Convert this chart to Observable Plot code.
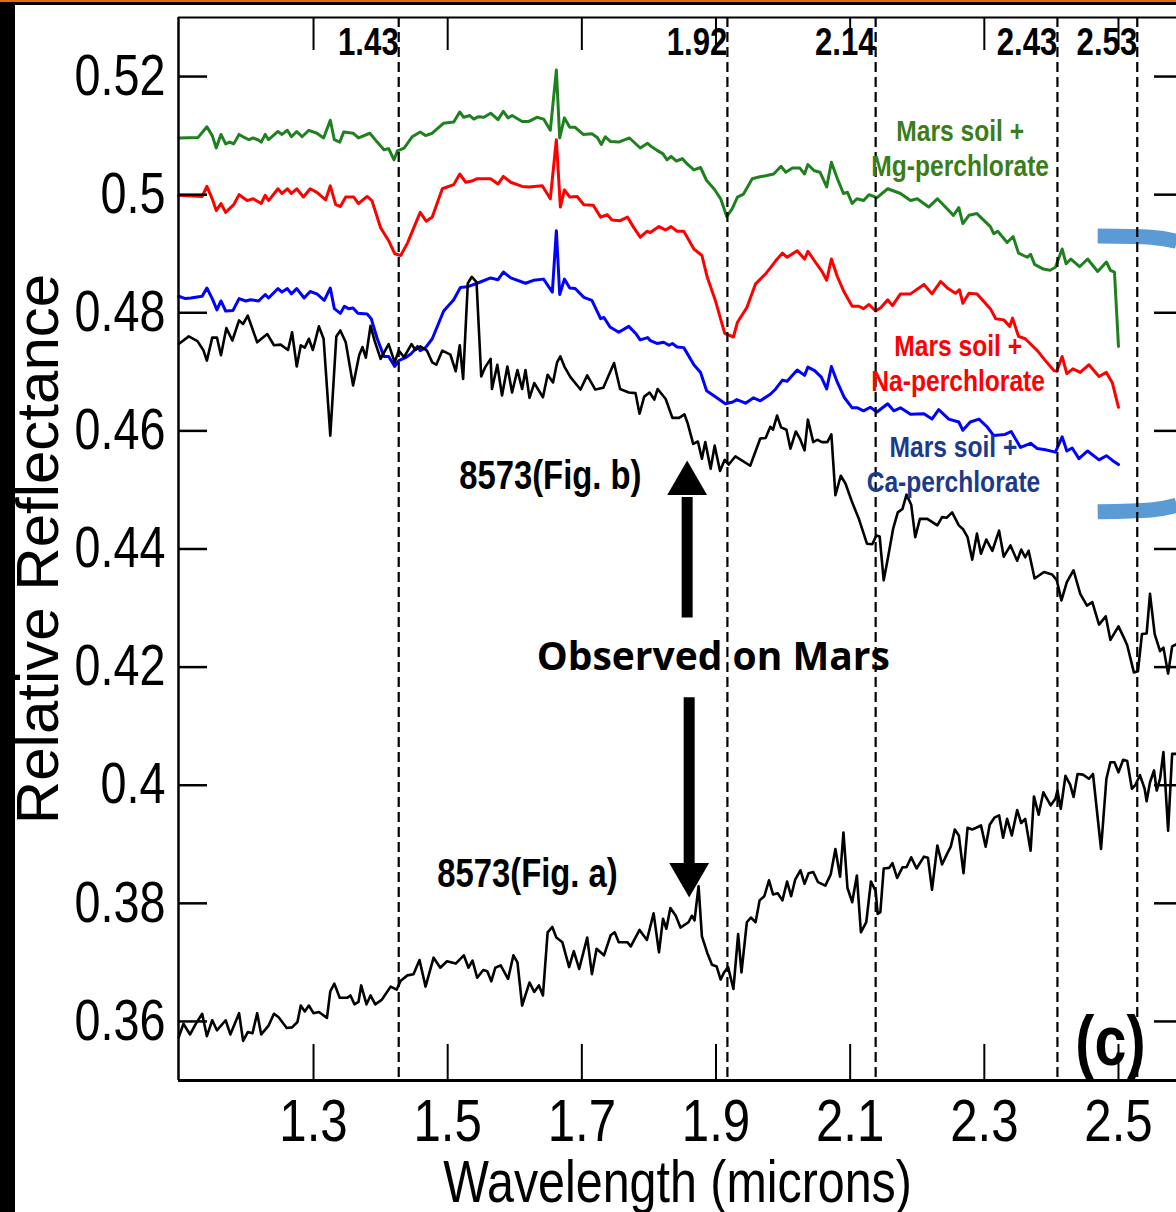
<!DOCTYPE html>
<html><head><meta charset="utf-8">
<script src="https://cdn.jsdelivr.net/npm/d3@7"></script>
<script src="https://cdn.jsdelivr.net/npm/@observablehq/plot@0.6"></script>
<style>
html,body{margin:0;padding:0;background:#fff;overflow:hidden;}
#outer{width:1176px;height:1212px;box-sizing:border-box;border-top:2px solid #e46c0a;}
#inner{height:1210px;box-sizing:border-box;border-top:3px solid #000;border-left:15px solid #000;}
svg{display:block;}
</style></head><body><div id="outer"><div id="inner"><div id="chart"></div></div></div>
<script>
// ---------- data (wavelength in microns, relative reflectance) ----------
const mgPerchlorate = [[1.099,.5096],[1.128,.5097],[1.141,.5115],[1.149,.5100],[1.155,.5079],[1.162,.5102],[1.169,.5086],[1.175,.5089],[1.181,.5086],[1.189,.5102],[1.195,.5098],[1.204,.5093],[1.210,.5096],[1.217,.5093],[1.222,.5089],[1.228,.5102],[1.233,.5093],[1.247,.5107],[1.253,.5102],[1.261,.5109],[1.267,.5098],[1.275,.5107],[1.283,.5098],[1.293,.5109],[1.305,.5104],[1.315,.5096],[1.325,.5126],[1.331,.5093],[1.339,.5089],[1.345,.5106],[1.359,.5104],[1.367,.5096],[1.384,.5104],[1.395,.5089],[1.405,.5076],[1.412,.5078],[1.420,.5059],[1.425,.5074],[1.435,.5079],[1.447,.5098],[1.459,.5106],[1.467,.5100],[1.477,.5104],[1.494,.5121],[1.509,.5123],[1.518,.5140],[1.524,.5131],[1.533,.5134],[1.539,.5128],[1.546,.5132],[1.554,.5131],[1.564,.5138],[1.575,.5127],[1.583,.5141],[1.590,.5130],[1.596,.5134],[1.611,.5124],[1.621,.5124],[1.633,.5131],[1.643,.5128],[1.653,.5109],[1.662,.5211],[1.667,.5096],[1.674,.5130],[1.682,.5114],[1.690,.5114],[1.702,.5102],[1.715,.5103],[1.723,.5097],[1.729,.5085],[1.735,.5098],[1.743,.5090],[1.755,.5089],[1.771,.5096],[1.787,.5079],[1.798,.5087],[1.802,.5083],[1.812,.5075],[1.821,.5069],[1.827,.5059],[1.833,.5065],[1.841,.5057],[1.850,.5061],[1.857,.5052],[1.867,.5042],[1.877,.5046],[1.886,.5024],[1.897,.5010],[1.907,.4993],[1.916,.4963],[1.924,.4976],[1.932,.4996],[1.941,.5001],[1.954,.5027],[1.964,.5030],[1.974,.5032],[1.986,.5035],[1.997,.5048],[2.004,.5038],[2.014,.5045],[2.025,.5045],[2.032,.5035],[2.037,.5051],[2.046,.5041],[2.055,.5038],[2.065,.5013],[2.072,.5055],[2.081,.5027],[2.090,.5002],[2.096,.5004],[2.103,.4985],[2.110,.4993],[2.120,.4990],[2.128,.5000],[2.140,.4995],[2.156,.5010],[2.175,.5002],[2.190,.4990],[2.200,.4993],[2.217,.4979],[2.230,.4993],[2.242,.4979],[2.254,.4965],[2.262,.4978],[2.268,.4951],[2.277,.4965],[2.289,.4968],[2.299,.4957],[2.309,.4946],[2.314,.4934],[2.320,.4938],[2.334,.4919],[2.343,.4929],[2.351,.4901],[2.364,.4894],[2.369,.4899],[2.375,.4882],[2.388,.4874],[2.398,.4872],[2.406,.4877],[2.416,.4908],[2.422,.4883],[2.429,.4891],[2.442,.4878],[2.454,.4891],[2.469,.4870],[2.482,.4886],[2.488,.4872],[2.494,.4869],[2.500,.4743]];

const naPerchlorate = [[1.099,.4999],[1.134,.4997],[1.141,.5014],[1.149,.4993],[1.155,.4973],[1.162,.4985],[1.169,.4970],[1.181,.4983],[1.189,.5000],[1.201,.4990],[1.210,.4993],[1.222,.4985],[1.228,.4999],[1.233,.4990],[1.247,.5010],[1.253,.5002],[1.261,.5010],[1.267,.5002],[1.275,.5010],[1.285,.4996],[1.295,.5010],[1.305,.5004],[1.318,.4991],[1.325,.5015],[1.333,.4983],[1.340,.4980],[1.348,.4996],[1.360,.4996],[1.367,.4985],[1.380,.4997],[1.387,.4990],[1.400,.4944],[1.412,.4922],[1.421,.4900],[1.430,.4897],[1.440,.4918],[1.459,.4970],[1.468,.4955],[1.477,.4962],[1.492,.5010],[1.509,.5017],[1.518,.5035],[1.527,.5021],[1.536,.5023],[1.544,.5027],[1.564,.5027],[1.575,.5018],[1.583,.5031],[1.594,.5021],[1.611,.5014],[1.621,.5013],[1.641,.5015],[1.653,.4993],[1.662,.5093],[1.668,.4979],[1.674,.5008],[1.682,.4996],[1.693,.4997],[1.703,.4983],[1.717,.4982],[1.728,.4962],[1.738,.4966],[1.745,.4957],[1.757,.4956],[1.768,.4962],[1.777,.4945],[1.787,.4928],[1.797,.4938],[1.802,.4936],[1.815,.4946],[1.825,.4940],[1.833,.4946],[1.842,.4938],[1.852,.4938],[1.867,.4908],[1.879,.4897],[1.887,.4860],[1.899,.4821],[1.913,.4765],[1.926,.4759],[1.932,.4784],[1.946,.4809],[1.959,.4849],[1.974,.4866],[1.989,.4888],[1.999,.4901],[2.006,.4894],[2.021,.4905],[2.032,.4891],[2.037,.4904],[2.048,.4886],[2.058,.4870],[2.065,.4855],[2.072,.4891],[2.081,.4861],[2.091,.4835],[2.103,.4811],[2.113,.4811],[2.120,.4807],[2.128,.4814],[2.138,.4803],[2.146,.4809],[2.156,.4822],[2.163,.4812],[2.175,.4832],[2.190,.4832],[2.210,.4848],[2.222,.4832],[2.235,.4853],[2.246,.4841],[2.257,.4833],[2.263,.4839],[2.268,.4816],[2.277,.4833],[2.289,.4832],[2.309,.4807],[2.317,.4790],[2.329,.4788],[2.338,.4777],[2.342,.4791],[2.351,.4760],[2.361,.4756],[2.379,.4736],[2.391,.4719],[2.404,.4702],[2.408,.4701],[2.416,.4726],[2.423,.4697],[2.432,.4705],[2.443,.4699],[2.456,.4712],[2.471,.4692],[2.482,.4699],[2.491,.4681],[2.500,.4640]];

const caPerchlorate = [[1.099,.4828],[1.109,.4824],[1.117,.4825],[1.134,.4828],[1.141,.4842],[1.149,.4824],[1.156,.4805],[1.162,.4820],[1.169,.4803],[1.180,.4804],[1.189,.4824],[1.199,.4820],[1.206,.4822],[1.218,.4820],[1.228,.4831],[1.233,.4825],[1.247,.4841],[1.253,.4835],[1.261,.4841],[1.267,.4832],[1.275,.4841],[1.286,.4825],[1.295,.4836],[1.305,.4832],[1.316,.4821],[1.325,.4842],[1.331,.4807],[1.340,.4799],[1.346,.4811],[1.352,.4807],[1.359,.4808],[1.366,.4799],[1.380,.4798],[1.386,.4790],[1.395,.4756],[1.405,.4726],[1.412,.4726],[1.421,.4709],[1.427,.4719],[1.437,.4724],[1.445,.4730],[1.455,.4743],[1.459,.4736],[1.467,.4741],[1.477,.4756],[1.494,.4803],[1.509,.4822],[1.519,.4843],[1.529,.4844],[1.544,.4850],[1.564,.4859],[1.575,.4856],[1.583,.4869],[1.594,.4859],[1.616,.4850],[1.628,.4855],[1.643,.4857],[1.656,.4835],[1.662,.4939],[1.667,.4831],[1.674,.4857],[1.682,.4842],[1.690,.4841],[1.703,.4826],[1.715,.4821],[1.728,.4790],[1.733,.4792],[1.742,.4776],[1.755,.4767],[1.770,.4777],[1.781,.4764],[1.787,.4754],[1.798,.4758],[1.802,.4753],[1.812,.4748],[1.822,.4750],[1.830,.4745],[1.835,.4748],[1.842,.4742],[1.852,.4741],[1.867,.4712],[1.877,.4699],[1.886,.4668],[1.899,.4658],[1.914,.4646],[1.925,.4649],[1.931,.4653],[1.944,.4647],[1.956,.4656],[1.966,.4651],[1.981,.4662],[1.989,.4671],[1.999,.4686],[2.006,.4684],[2.021,.4703],[2.032,.4694],[2.037,.4708],[2.047,.4702],[2.057,.4691],[2.065,.4671],[2.072,.4709],[2.081,.4682],[2.091,.4657],[2.103,.4639],[2.111,.4639],[2.120,.4634],[2.130,.4640],[2.140,.4632],[2.156,.4646],[2.165,.4634],[2.175,.4639],[2.190,.4628],[2.210,.4629],[2.222,.4620],[2.232,.4636],[2.247,.4620],[2.262,.4615],[2.268,.4601],[2.279,.4615],[2.292,.4620],[2.304,.4607],[2.314,.4592],[2.331,.4594],[2.340,.4599],[2.354,.4572],[2.369,.4579],[2.379,.4570],[2.391,.4568],[2.406,.4564],[2.416,.4590],[2.423,.4566],[2.431,.4571],[2.441,.4553],[2.454,.4566],[2.471,.4551],[2.482,.4558],[2.491,.4550],[2.500,.4543]];

const obs8573b = [[1.099,.4747],[1.114,.4760],[1.127,.4752],[1.136,.4736],[1.141,.4719],[1.149,.4758],[1.156,.4758],[1.162,.4728],[1.170,.4774],[1.179,.4753],[1.189,.4787],[1.195,.4781],[1.202,.4795],[1.216,.4750],[1.231,.4764],[1.241,.4745],[1.251,.4746],[1.262,.4737],[1.268,.4767],[1.275,.4709],[1.281,.4745],[1.287,.4741],[1.293,.4756],[1.299,.4737],[1.308,.4777],[1.315,.4756],[1.325,.4592],[1.334,.4760],[1.340,.4770],[1.348,.4750],[1.359,.4677],[1.368,.4728],[1.373,.4742],[1.378,.4724],[1.385,.4778],[1.391,.4753],[1.400,.4722],[1.412,.4747],[1.421,.4716],[1.427,.4736],[1.435,.4725],[1.446,.4747],[1.452,.4737],[1.459,.4743],[1.469,.4736],[1.477,.4716],[1.483,.4712],[1.492,.4736],[1.504,.4729],[1.512,.4701],[1.518,.4745],[1.523,.4688],[1.530,.4850],[1.536,.4861],[1.543,.4852],[1.550,.4692],[1.556,.4708],[1.564,.4722],[1.566,.4671],[1.574,.4712],[1.581,.4660],[1.589,.4709],[1.596,.4665],[1.604,.4703],[1.611,.4671],[1.616,.4703],[1.622,.4656],[1.629,.4681],[1.642,.4657],[1.649,.4695],[1.657,.4682],[1.663,.4716],[1.668,.4726],[1.674,.4709],[1.683,.4691],[1.698,.4670],[1.708,.4694],[1.720,.4670],[1.732,.4673],[1.748,.4715],[1.757,.4671],[1.770,.4665],[1.780,.4664],[1.786,.4629],[1.793,.4658],[1.801,.4665],[1.808,.4653],[1.813,.4671],[1.825,.4654],[1.835,.4622],[1.845,.4622],[1.853,.4628],[1.858,.4612],[1.866,.4578],[1.873,.4582],[1.879,.4553],[1.884,.4581],[1.892,.4536],[1.898,.4575],[1.906,.4532],[1.913,.4551],[1.919,.4543],[1.929,.4557],[1.951,.4541],[1.966,.4587],[1.974,.4588],[1.981,.4607],[1.985,.4602],[1.991,.4626],[1.997,.4606],[2.005,.4602],[2.011,.4570],[2.019,.4599],[2.025,.4587],[2.032,.4567],[2.037,.4619],[2.045,.4581],[2.051,.4585],[2.058,.4581],[2.066,.4581],[2.072,.4594],[2.078,.4491],[2.086,.4524],[2.093,.4511],[2.103,.4479],[2.113,.4451],[2.125,.4409],[2.133,.4408],[2.139,.4423],[2.144,.4421],[2.150,.4347],[2.156,.4383],[2.164,.4434],[2.171,.4462],[2.178,.4468],[2.184,.4492],[2.191,.4475],[2.197,.4420],[2.204,.4451],[2.215,.4451],[2.230,.4440],[2.237,.4454],[2.244,.4453],[2.252,.4462],[2.262,.4440],[2.268,.4434],[2.275,.4420],[2.282,.4382],[2.289,.4426],[2.295,.4392],[2.303,.4416],[2.312,.4397],[2.322,.4431],[2.329,.4387],[2.339,.4406],[2.349,.4380],[2.355,.4399],[2.361,.4386],[2.366,.4397],[2.375,.4350],[2.389,.4361],[2.401,.4357],[2.408,.4347],[2.415,.4313],[2.423,.4344],[2.433,.4364],[2.443,.4324],[2.453,.4304],[2.461,.4310],[2.471,.4272],[2.481,.4286],[2.488,.4246],[2.500,.4269],[2.508,.4250],[2.513,.4237],[2.523,.4191],[2.529,.4193],[2.535,.4256],[2.542,.4257],[2.547,.4324],[2.554,.4256],[2.562,.4227],[2.567,.4233],[2.574,.4189],[2.580,.4235],[2.587,.4239]];

const obs8573a = [[1.099,.3573],[1.106,.3596],[1.116,.3578],[1.124,.3595],[1.134,.3613],[1.141,.3575],[1.149,.3602],[1.156,.3585],[1.169,.3602],[1.176,.3578],[1.189,.3614],[1.195,.3567],[1.202,.3582],[1.209,.3580],[1.216,.3614],[1.222,.3578],[1.233,.3593],[1.241,.3613],[1.248,.3607],[1.260,.3589],[1.268,.3590],[1.276,.3599],[1.281,.3627],[1.287,.3617],[1.293,.3627],[1.300,.3614],[1.308,.3616],[1.320,.3606],[1.325,.3651],[1.331,.3664],[1.339,.3640],[1.350,.3640],[1.355,.3644],[1.361,.3629],[1.367,.3633],[1.371,.3661],[1.379,.3629],[1.385,.3644],[1.392,.3629],[1.402,.3637],[1.415,.3659],[1.424,.3654],[1.430,.3669],[1.440,.3678],[1.449,.3680],[1.458,.3704],[1.467,.3659],[1.479,.3708],[1.489,.3691],[1.499,.3702],[1.512,.3698],[1.524,.3712],[1.531,.3691],[1.537,.3703],[1.544,.3674],[1.553,.3687],[1.559,.3685],[1.565,.3668],[1.571,.3691],[1.579,.3695],[1.590,.3672],[1.598,.3712],[1.604,.3700],[1.611,.3627],[1.622,.3666],[1.629,.3650],[1.636,.3661],[1.642,.3644],[1.649,.3751],[1.656,.3760],[1.662,.3742],[1.671,.3734],[1.681,.3692],[1.688,.3719],[1.696,.3689],[1.708,.3742],[1.715,.3680],[1.722,.3723],[1.733,.3712],[1.743,.3746],[1.749,.3751],[1.755,.3734],[1.768,.3734],[1.773,.3727],[1.786,.3755],[1.797,.3738],[1.807,.3783],[1.815,.3717],[1.821,.3774],[1.826,.3757],[1.832,.3792],[1.840,.3779],[1.847,.3759],[1.859,.3768],[1.864,.3779],[1.868,.3771],[1.874,.3829],[1.879,.3744],[1.887,.3716],[1.894,.3696],[1.901,.3693],[1.907,.3671],[1.912,.3683],[1.918,.3692],[1.926,.3655],[1.933,.3748],[1.938,.3683],[1.946,.3768],[1.952,.3776],[1.959,.3768],[1.965,.3805],[1.972,.3812],[1.979,.3839],[1.985,.3815],[1.992,.3817],[1.999,.3805],[2.006,.3837],[2.012,.3812],[2.018,.3840],[2.026,.3856],[2.032,.3833],[2.038,.3851],[2.045,.3853],[2.052,.3836],[2.063,.3830],[2.071,.3849],[2.078,.3892],[2.085,.3845],[2.090,.3920],[2.096,.3826],[2.103,.3802],[2.110,.3847],[2.116,.3751],[2.124,.3768],[2.131,.3837],[2.138,.3821],[2.141,.3782],[2.145,.3785],[2.150,.3859],[2.158,.3860],[2.163,.3868],[2.170,.3843],[2.178,.3861],[2.184,.3861],[2.191,.3878],[2.199,.3859],[2.210,.3879],[2.216,.3877],[2.222,.3823],[2.230,.3898],[2.237,.3866],[2.245,.3885],[2.250,.3896],[2.256,.3925],[2.262,.3915],[2.269,.3851],[2.275,.3928],[2.282,.3925],[2.288,.3928],[2.295,.3932],[2.302,.3896],[2.308,.3933],[2.315,.3945],[2.322,.3949],[2.328,.3911],[2.334,.3943],[2.341,.3915],[2.349,.3958],[2.355,.3936],[2.361,.3943],[2.369,.3889],[2.374,.3981],[2.381,.3950],[2.388,.3988],[2.399,.3966],[2.406,.3977],[2.409,.3991],[2.414,.3960],[2.421,.4016],[2.428,.4001],[2.433,.3980],[2.439,.4019],[2.447,.4018],[2.456,.4011],[2.462,.4019],[2.474,.3892],[2.482,.4011],[2.488,.4039],[2.494,.4039],[2.500,.4022],[2.507,.4043],[2.513,.4041],[2.520,.3994],[2.525,.4000],[2.532,.4017],[2.539,.3994],[2.542,.3973],[2.547,.4005],[2.553,.4025],[2.557,.3991],[2.562,.4011],[2.567,.4056],[2.574,.3923],[2.580,.4053],[2.587,.4053]];

// band positions (dashed lines) and their labels
const bandPositions = [1.427, 1.917, 2.138, 2.409, 2.528];
const bandLabels = ["1.43", "1.92", "2.14", "2.43", "2.53"];

// axis ticks
const xTicks = [1.3, 1.5, 1.7, 1.9, 2.1, 2.3, 2.5];
const yTicks = [0.36, 0.38, 0.40, 0.42, 0.44, 0.46, 0.48, 0.50, 0.52];
const xDomain = [1.0987, 2.5865];
const yDomain = [0.35, 0.53];

// annotation anchors
const arrowX = [1.857, 1.860];
const arrowFrom = [0.4284, 0.4149];
const arrowTo = [0.4488, 0.3867];
const arrowHead = [0.4511, 0.3849];
const arrowTurn = [0, 180];
const sampleNames = ["8573(Fig. b)", "8573(Fig. a)"];
const sampleX = [1.653, 1.619];
const sampleY = [0.4524, 0.3850];
const seriesNames = ["Mars soil +\nMg-perchlorate", "Mars soil +\nNa-perchlorate", "Mars soil +\nCa-perchlorate"];
const seriesNameX = [2.264, 2.261, 2.254];
const seriesNameY = [0.5080, 0.4716, 0.4545];
const seriesColors = ["#3a7d1a", "#ff0000", "#1b3a8c"];
const observedText = ["Observed on Mars"];
const observedX = [1.896];
const observedY = [0.4216];
const panelText = ["(c)"];
const panelX = [2.488];
const panelY = [0.3564];
const bracketTop = [[2.469, .4930], [2.548, .4928], [2.587, .4921]];
const bracketBottom = [[2.469, .4463], [2.548, .4466], [2.587, .4474]];

// ---------- drawing ----------
const NARROW = "'Liberation Sans Narrow','Liberation Sans',Arial,sans-serif";
const REGULAR = "'Liberation Sans',Arial,sans-serif";
const W = 1161, H = 1207, mL = 163, mT = 12, mR = 0, mB = 132;
const fw = W - mL - mR, fh = H - mT - mB;
const pts = a => a.map(([w, r]) => ({w, r}));

const arrows = arrowX.map((x, i) => ({x, from: arrowFrom[i], to: arrowTo[i], head: arrowHead[i], rot: arrowTurn[i]}));
const samples = sampleNames.map((t, i) => ({t, x: sampleX[i], y: sampleY[i]}));
const sNames = seriesNames.map((t, i) => ({t, x: seriesNameX[i], y: seriesNameY[i], c: seriesColors[i]}));
const bands = bandPositions.map((x, i) => ({x, t: bandLabels[i]}));

const chart = Plot.plot({
  width: W, height: H,
  marginLeft: mL, marginTop: mT, marginRight: mR, marginBottom: mB,
  x: {domain: xDomain},
  y: {domain: yDomain},
  style: {background: "transparent", color: "black", fontFamily: REGULAR},
  marks: [
    Plot.line(pts(bracketTop), {x: "w", y: "r", stroke: "#5b9bd5", strokeWidth: 15, strokeLinecap: "butt", curve: "natural"}),
    Plot.line(pts(bracketBottom), {x: "w", y: "r", stroke: "#5b9bd5", strokeWidth: 15, strokeLinecap: "butt", curve: "natural"}),
    Plot.line(pts(mgPerchlorate), {x: "w", y: "r", stroke: "#1f801f", strokeWidth: 3}),
    Plot.line(pts(naPerchlorate), {x: "w", y: "r", stroke: "#ff0000", strokeWidth: 3}),
    Plot.line(pts(caPerchlorate), {x: "w", y: "r", stroke: "#0000ff", strokeWidth: 3}),
    Plot.line(pts(obs8573b), {x: "w", y: "r", stroke: "#000", strokeWidth: 2.6}),
    Plot.line(pts(obs8573a), {x: "w", y: "r", stroke: "#000", strokeWidth: 2.6}),
    Plot.ruleX(bands, {x: "x", stroke: "#000", strokeWidth: 2.2, strokeDasharray: "10,5"}),
    // frame (left, bottom, top)
    Plot.ruleX([xDomain[0]], {stroke: "#000", strokeWidth: 2.5}),
    Plot.ruleY([yDomain[0]], {stroke: "#000", strokeWidth: 3}),
    Plot.ruleY([yDomain[1]], {stroke: "#000", strokeWidth: 2}),
    // inward ticks
    Plot.tickY(yTicks, {y: d => d, insetRight: fw - 29, stroke: "#000", strokeWidth: 2.5}),
    Plot.tickY(yTicks, {y: d => d, insetLeft: fw - 22, stroke: "#000", strokeWidth: 2.5}),
    Plot.tickX(xTicks, {x: d => d, insetTop: fh - 36, stroke: "#000", strokeWidth: 2}),
    Plot.tickX(xTicks, {x: d => d, insetBottom: fh - 33, stroke: "#000", strokeWidth: 2}),
    Plot.axisY(yTicks, {anchor: "left", tickSize: 0, tickPadding: 13, fontSize: 57, fontFamily: NARROW, tickFormat: d => String(d), label: null}),
    Plot.axisX(xTicks, {anchor: "bottom", tickSize: 0, tickPadding: 18, fontSize: 60, fontFamily: NARROW, tickFormat: d => String(d), label: null}),
    Plot.text(["Relative Reflectance"], {text: d => d, frameAnchor: "left", textAnchor: "middle", lineAnchor: "middle", rotate: -90, dx: -140, fontSize: 60, fontFamily: REGULAR, fill: "#000"}),
    Plot.text(["Wavelength (microns)"], {text: d => d, frameAnchor: "bottom", lineAnchor: "middle", dy: 103, fontSize: 59, fontFamily: NARROW, fill: "#000"}),
    // band labels along the top
    Plot.text(bands, {x: "x", text: "t", frameAnchor: "top", textAnchor: "end", lineAnchor: "middle", dy: 25, fontSize: 38, fontWeight: "bold", fontFamily: NARROW, fill: "#000"}),
    // arrows
    Plot.link(arrows, {x1: "x", x2: "x", y1: "from", y2: "to", stroke: "#000", strokeWidth: 11, strokeLinecap: "butt"}),
    Plot.dot(arrows, {x: "x", y: "head", symbol: "triangle", r: 14.8, fill: "#000", stroke: "none", rotate: "rot"}),
    Plot.text(observedText, {x: observedX, y: observedY, text: d => d, fontSize: 39, fontWeight: "bold", fontFamily: "'Open Sans',sans-serif", fill: "#000"}),
    Plot.text(samples, {x: "x", y: "y", text: "t", fontSize: 40, fontWeight: "bold", fontFamily: NARROW, fill: "#000"}),
    Plot.text(sNames, {x: "x", y: "y", text: "t", fill: "c", lineHeight: 1.17, fontSize: 30, fontWeight: "bold", fontFamily: NARROW}),
    Plot.text(panelText, {x: panelX, y: panelY, text: d => d, fontSize: 70, fontWeight: "bold", fontFamily: NARROW, fill: "#000"})
  ]
});
document.getElementById("chart").appendChild(chart);

// Narrow face is not installed: condense the Liberation Sans glyphs to Arial-Narrow proportions.
const narrowAvailable = (() => {
  const c = document.createElement("canvas").getContext("2d");
  c.font = "40px 'Liberation Sans Narrow', monospace";
  const a = c.measureText("0.52 Wavelength").width;
  c.font = "40px monospace";
  return Math.abs(a - c.measureText("0.52 Wavelength").width) > 0.5;
})();
if (!narrowAvailable) {
  chart.querySelectorAll("text").forEach(t => {
    const ff = getComputedStyle(t).fontFamily;
    if (!/Narrow/.test(ff)) return;
    const spans = t.querySelectorAll("tspan");
    const targets = spans.length ? Array.from(spans) : [t];
    targets.forEach(el => {
      const len = el.getComputedTextLength();
      if (len > 0) {
        el.setAttribute("textLength", (len * 0.82).toFixed(1));
        el.setAttribute("lengthAdjust", "spacingAndGlyphs");
      }
    });
  });
}
</script></body></html>
